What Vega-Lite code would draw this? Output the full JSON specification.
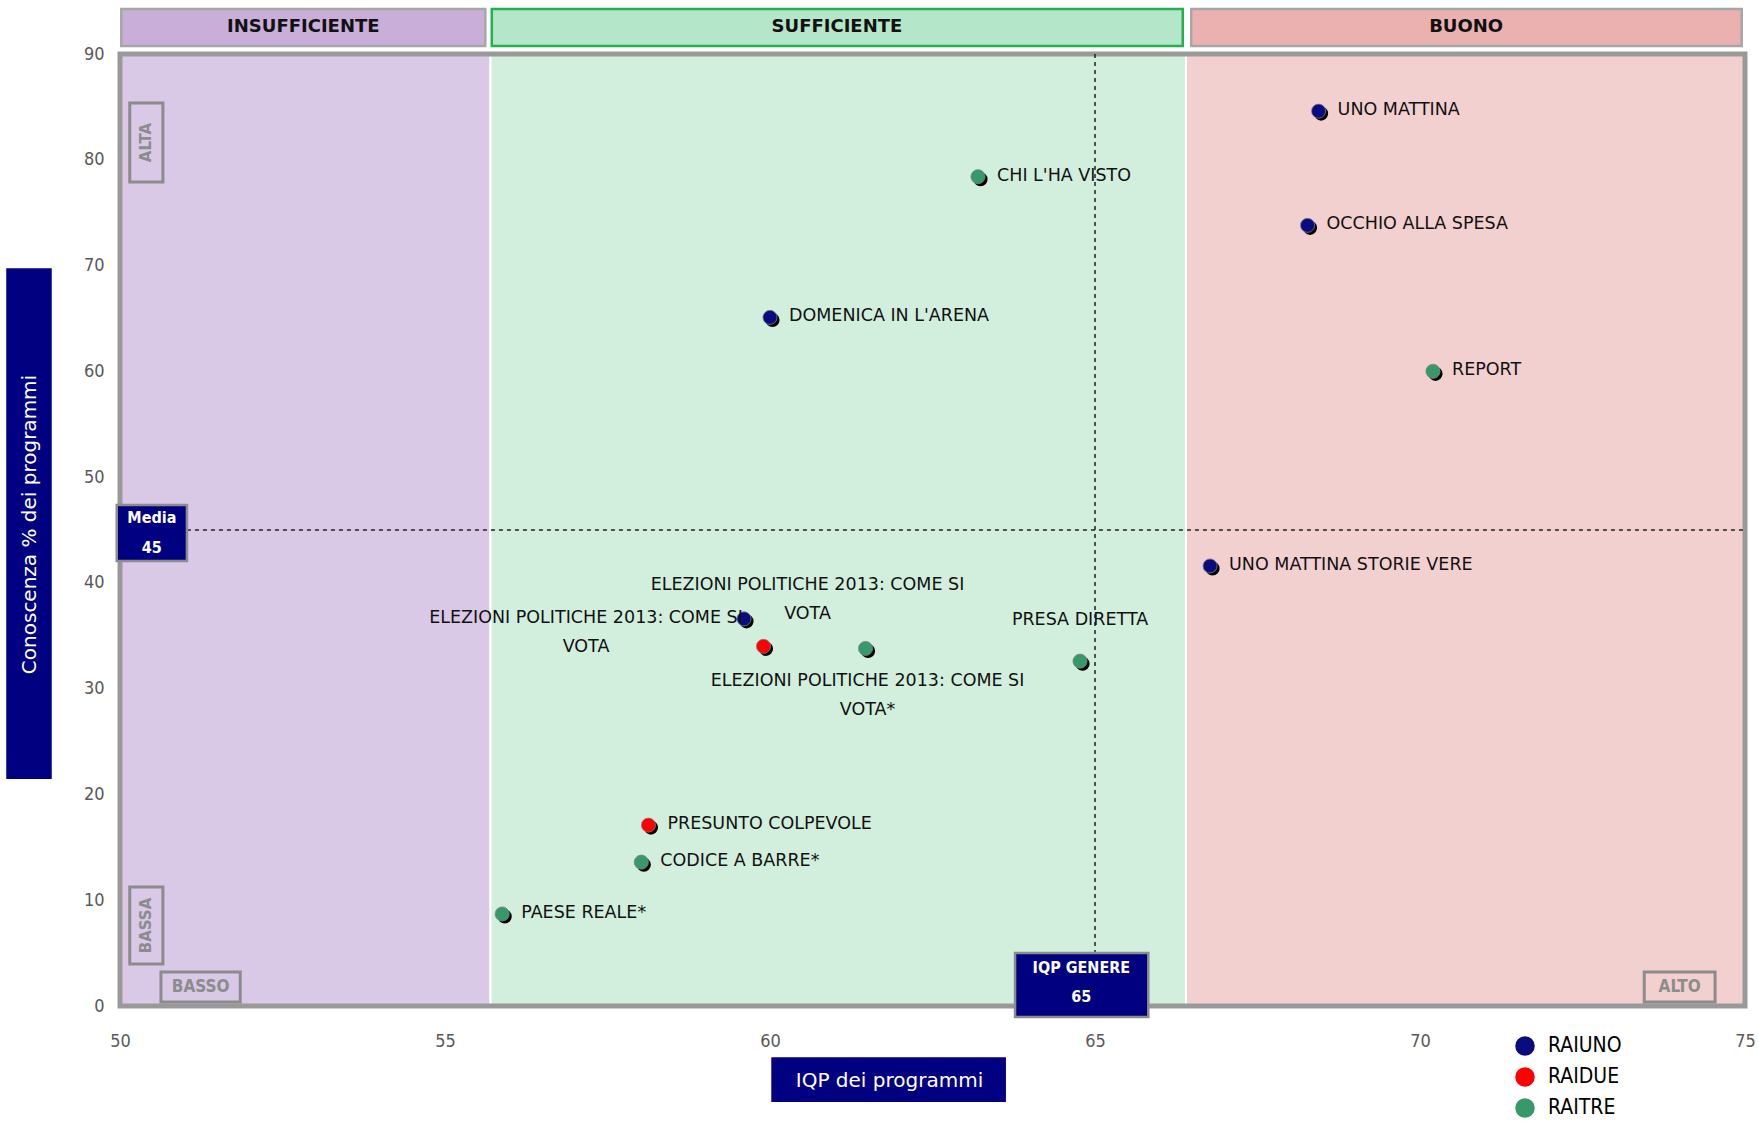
{
  "$schema": "https://vega.github.io/schema/vega-lite/v6.json",
  "width": 1625,
  "height": 952,
  "autosize": {"type": "none"},
  "padding": {"left": 120, "top": 54, "right": 13, "bottom": 115},
  "background": "white",
  "config": {"view": {"stroke": null}, "font": "DejaVu Sans"},
  "datasets": {
    "zone": [
      {"zona": "INSUFFICIENTE", "iqp": 50, "iqp2": 55.7, "con": 0, "con2": 90},
      {"zona": "SUFFICIENTE", "iqp": 55.7, "iqp2": 66.4, "con": 0, "con2": 90},
      {"zona": "BUONO", "iqp": 66.4, "iqp2": 75, "con": 0, "con2": 90}
    ],
    "intestazioni": [
      {"zona": "INSUFFICIENTE", "iqp": 50.02, "iqp2": 55.62, "iqpc": 52.82, "con": 90.75, "con2": 94.25, "conc": 92.55},
      {"zona": "SUFFICIENTE", "iqp": 55.72, "iqp2": 66.35, "iqpc": 61.03, "con": 90.75, "con2": 94.25, "conc": 92.55},
      {"zona": "BUONO", "iqp": 66.48, "iqp2": 74.95, "iqpc": 70.71, "con": 90.75, "con2": 94.25, "conc": 92.55}
    ],
    "cornice": [{"iqp": 50, "iqp2": 75, "con": 0, "con2": 90}],
    "media": [{"iqp": 51.03, "iqp2": 75, "con": 45}],
    "genere": [{"iqp": 65, "con": 90, "con2": 5.01}],
    "programmi": [
      {"programma": "UNO MATTINA", "canale": "RAIUNO", "iqp": 68.44, "con": 84.6},
      {"programma": "OCCHIO ALLA SPESA", "canale": "RAIUNO", "iqp": 68.27, "con": 73.8},
      {"programma": "CHI L'HA VISTO", "canale": "RAITRE", "iqp": 63.2, "con": 78.4},
      {"programma": "DOMENICA IN L'ARENA", "canale": "RAIUNO", "iqp": 60.0, "con": 65.1},
      {"programma": "REPORT", "canale": "RAITRE", "iqp": 70.2, "con": 60.0},
      {"programma": "UNO MATTINA STORIE VERE", "canale": "RAIUNO", "iqp": 66.77, "con": 41.6},
      {"programma": "ELEZIONI POLITICHE 2013: COME SI\nVOTA", "canale": "RAIUNO", "iqp": 59.6, "con": 36.6},
      {"programma": "ELEZIONI POLITICHE 2013: COME SI\nVOTA", "canale": "RAIDUE", "iqp": 59.9, "con": 34.0},
      {"programma": "ELEZIONI POLITICHE 2013: COME SI\nVOTA*", "canale": "RAITRE", "iqp": 61.47, "con": 33.8},
      {"programma": "PRESA DIRETTA", "canale": "RAITRE", "iqp": 64.77, "con": 32.6},
      {"programma": "PRESUNTO COLPEVOLE", "canale": "RAIDUE", "iqp": 58.13, "con": 17.1},
      {"programma": "CODICE A BARRE*", "canale": "RAITRE", "iqp": 58.02, "con": 13.6},
      {"programma": "PAESE REALE*", "canale": "RAITRE", "iqp": 55.88, "con": 8.7}
    ],
    "riquadri": [
      {"nome": "Media", "iqp": 49.95, "iqp2": 51.03, "con": 42.07, "con2": 47.36},
      {"nome": "IQP GENERE", "iqp": 63.77, "iqp2": 65.82, "con": -1.04, "con2": 5.01}
    ],
    "testiRiquadri": [
      {"testo": "Media", "iqp": 50.49, "con": 46.13},
      {"testo": "45", "iqp": 50.49, "con": 43.3},
      {"testo": "IQP GENERE", "iqp": 64.79, "con": 3.6},
      {"testo": "65", "iqp": 64.79, "con": 0.85}
    ],
    "angoli": [
      {"testo": "ALTA", "verticale": true, "iqp": 50.15, "iqp2": 50.66, "con": 77.9, "con2": 85.37, "iqpc": 50.405, "conc": 81.63},
      {"testo": "BASSA", "verticale": true, "iqp": 50.15, "iqp2": 50.66, "con": 3.97, "con2": 11.25, "iqpc": 50.405, "conc": 7.61},
      {"testo": "BASSO", "verticale": false, "iqp": 50.63, "iqp2": 51.85, "con": 0.38, "con2": 3.21, "iqpc": 51.24, "conc": 1.8},
      {"testo": "ALTO", "verticale": false, "iqp": 73.45, "iqp2": 74.54, "con": 0.38, "con2": 3.21, "iqpc": 73.995, "conc": 1.8}
    ],
    "titoli": [
      {"titolo": "y", "iqp": 48.25, "iqp2": 48.95, "con": 21.45, "con2": 69.75},
      {"titolo": "x", "iqp": 60.02, "iqp2": 63.63, "con": -9.08, "con2": -4.85}
    ]
  },
  "layer": [
    {
      "data": {"name": "zone"},
      "mark": {"type": "rect", "stroke": "white", "strokeWidth": 2},
      "encoding": {
        "x": {"field": "iqp", "type": "quantitative",
          "scale": {"domain": [50, 75], "nice": false, "zero": false},
          "axis": {"title": "IQP dei programmi", "values": [50, 55, 60, 65, 70, 75], "format": "d", "ticks": false, "domain": false, "grid": false,
            "labelFontSize": 18, "labelColor": "#595959", "labelFont": "Liberation Sans Narrow, DejaVu Sans Condensed, sans-serif",
            "labelPadding": 26, "labelFlush": false,
            "titleColor": "white", "titleFontSize": 20, "titleFontWeight": "normal", "titleFont": "DejaVu Sans",
            "titleX": 769, "titleY": 74, "titleBaseline": "middle", "titleAlign": "center", "zindex": 1}},
        "x2": {"field": "iqp2"},
        "y": {"field": "con", "type": "quantitative",
          "scale": {"domain": [0, 90], "nice": false, "zero": false},
          "axis": {"title": "Conoscenza % dei programmi", "values": [0, 10, 20, 30, 40, 50, 60, 70, 80, 90], "format": "d", "ticks": false, "domain": false, "grid": false,
            "labelFontSize": 18, "labelColor": "#595959", "labelFont": "Liberation Sans Narrow, DejaVu Sans Condensed, sans-serif",
            "labelPadding": 16, "labelFlush": false,
            "titleColor": "white", "titleFontSize": 20, "titleFontWeight": "normal", "titleFont": "DejaVu Sans",
            "titleX": -91, "titleY": 470, "titleAngle": 270, "titleBaseline": "middle", "titleAlign": "center", "zindex": 1}},
        "y2": {"field": "con2"},
        "fill": {"condition": [
          {"test": "datum.zona === 'INSUFFICIENTE'", "value": "#D9C8E6"},
          {"test": "datum.zona === 'SUFFICIENTE'", "value": "#D2EFDE"}
        ], "value": "#F2D0D0"}
      }
    },
    {
      "data": {"name": "intestazioni"},
      "mark": {"type": "rect", "strokeWidth": 2.5},
      "encoding": {
        "x": {"field": "iqp", "type": "quantitative"},
        "x2": {"field": "iqp2"},
        "y": {"field": "con", "type": "quantitative"},
        "y2": {"field": "con2"},
        "fill": {"condition": [
          {"test": "datum.zona === 'INSUFFICIENTE'", "value": "#C8AED8"},
          {"test": "datum.zona === 'SUFFICIENTE'", "value": "#B4E6CA"}
        ], "value": "#EBB1B1"},
        "stroke": {"condition": {"test": "datum.zona === 'SUFFICIENTE'", "value": "#22B14C"}, "value": "#A6A6A6"}
      }
    },
    {
      "data": {"name": "intestazioni"},
      "mark": {"type": "text", "fontSize": 18, "fontWeight": "bold", "color": "#111111", "align": "center", "baseline": "middle"},
      "encoding": {
        "x": {"field": "iqpc", "type": "quantitative"},
        "y": {"field": "conc", "type": "quantitative"},
        "text": {"field": "zona"}
      }
    },
    {
      "data": {"name": "cornice"},
      "mark": {"type": "rect", "fillOpacity": 0, "stroke": "#999999", "strokeWidth": 5},
      "encoding": {
        "x": {"field": "iqp", "type": "quantitative"},
        "x2": {"field": "iqp2"},
        "y": {"field": "con", "type": "quantitative"},
        "y2": {"field": "con2"}
      }
    },
    {
      "data": {"name": "media"},
      "mark": {"type": "rule", "color": "#222222", "strokeWidth": 1.5, "strokeDash": [4, 4]},
      "encoding": {
        "x": {"field": "iqp", "type": "quantitative"},
        "x2": {"field": "iqp2"},
        "y": {"field": "con", "type": "quantitative"}
      }
    },
    {
      "data": {"name": "genere"},
      "mark": {"type": "rule", "color": "#222222", "strokeWidth": 1.5, "strokeDash": [4, 4]},
      "encoding": {
        "x": {"field": "iqp", "type": "quantitative"},
        "y": {"field": "con", "type": "quantitative"},
        "y2": {"field": "con2"}
      }
    },
    {
      "data": {"name": "programmi"},
      "mark": {"type": "circle", "color": "#000000", "opacity": 1, "size": 200, "xOffset": 2.5, "yOffset": 2.5},
      "encoding": {
        "x": {"field": "iqp", "type": "quantitative"},
        "y": {"field": "con", "type": "quantitative"}
      }
    },
    {
      "data": {"name": "programmi"},
      "mark": {"type": "circle", "opacity": 1, "size": 200, "stroke": "#7f7f7f", "strokeWidth": 0.8},
      "encoding": {
        "x": {"field": "iqp", "type": "quantitative"},
        "y": {"field": "con", "type": "quantitative"},
        "color": {"field": "canale", "type": "nominal",
          "scale": {"domain": ["RAIUNO", "RAIDUE", "RAITRE"], "range": ["#0B0B80", "#FF0000", "#35996A"]},
          "legend": {"orient": "none", "legendX": 1394, "legendY": 981, "title": null, "symbolType": "circle",
            "symbolSize": 380, "symbolStrokeColor": "#8c8c8c", "symbolStrokeWidth": 2, "symbolOpacity": 1,
            "labelFontSize": 21, "labelFont": "Liberation Sans Narrow, DejaVu Sans Condensed, sans-serif", "labelColor": "#000000",
            "rowPadding": 3, "labelOffset": 12, "padding": 0,
            "encode": {"symbols": {"enter": {"fill": {"signal": "datum.value === 'RAIUNO' ? '#333399' : datum.value === 'RAIDUE' ? '#FF0000' : '#009999'"}}, "update": {"fill": {"signal": "datum.value === 'RAIUNO' ? '#333399' : datum.value === 'RAIDUE' ? '#FF0000' : '#009999'"}}}}}}
      }
    },
    {
      "data": {"name": "programmi"},
      "transform": [{"filter": "indexof(datum.programma, 'ELEZIONI') < 0 && datum.programma !== 'PRESA DIRETTA'"}],
      "mark": {"type": "text", "fontSize": 17.5, "color": "#111111", "align": "left", "baseline": "middle", "dx": 19, "dy": -1},
      "encoding": {
        "x": {"field": "iqp", "type": "quantitative"},
        "y": {"field": "con", "type": "quantitative"},
        "text": {"field": "programma"}
      }
    },
    {
      "data": {"name": "programmi"},
      "transform": [{"filter": "indexof(datum.programma, 'ELEZIONI') >= 0 && datum.canale === 'RAIUNO'"}],
      "mark": {"type": "text", "fontSize": 17.5, "color": "#111111", "align": "center", "baseline": "top", "dx": -158, "dy": -10, "lineBreak": "\n", "lineHeight": 29},
      "encoding": {
        "x": {"field": "iqp", "type": "quantitative"},
        "y": {"field": "con", "type": "quantitative"},
        "text": {"field": "programma"}
      }
    },
    {
      "data": {"name": "programmi"},
      "transform": [{"filter": "indexof(datum.programma, 'ELEZIONI') >= 0 && datum.canale === 'RAIDUE'"}],
      "mark": {"type": "text", "fontSize": 17.5, "color": "#111111", "align": "center", "baseline": "top", "dx": 44, "dy": -70, "lineBreak": "\n", "lineHeight": 29},
      "encoding": {
        "x": {"field": "iqp", "type": "quantitative"},
        "y": {"field": "con", "type": "quantitative"},
        "text": {"field": "programma"}
      }
    },
    {
      "data": {"name": "programmi"},
      "transform": [{"filter": "indexof(datum.programma, 'ELEZIONI') >= 0 && datum.canale === 'RAITRE'"}],
      "mark": {"type": "text", "fontSize": 17.5, "color": "#111111", "align": "center", "baseline": "top", "dx": 2, "dy": 24, "lineBreak": "\n", "lineHeight": 29},
      "encoding": {
        "x": {"field": "iqp", "type": "quantitative"},
        "y": {"field": "con", "type": "quantitative"},
        "text": {"field": "programma"}
      }
    },
    {
      "data": {"name": "programmi"},
      "transform": [{"filter": "datum.programma === 'PRESA DIRETTA'"}],
      "mark": {"type": "text", "fontSize": 17.5, "color": "#111111", "align": "center", "baseline": "middle", "dx": 0, "dy": -41},
      "encoding": {
        "x": {"field": "iqp", "type": "quantitative"},
        "y": {"field": "con", "type": "quantitative"},
        "text": {"field": "programma"}
      }
    },
    {
      "data": {"name": "riquadri"},
      "mark": {"type": "rect", "fill": "#000080", "stroke": "#8c8c8c", "strokeWidth": 2.5},
      "encoding": {
        "x": {"field": "iqp", "type": "quantitative"},
        "x2": {"field": "iqp2"},
        "y": {"field": "con", "type": "quantitative"},
        "y2": {"field": "con2"}
      }
    },
    {
      "data": {"name": "testiRiquadri"},
      "mark": {"type": "text", "fontSize": 16, "fontWeight": "bold", "color": "white", "align": "center", "baseline": "middle", "font": "DejaVu Sans Condensed, DejaVu Sans"},
      "encoding": {
        "x": {"field": "iqp", "type": "quantitative"},
        "y": {"field": "con", "type": "quantitative"},
        "text": {"field": "testo"}
      }
    },
    {
      "data": {"name": "angoli"},
      "mark": {"type": "rect", "fillOpacity": 0, "stroke": "#8c8c8c", "strokeWidth": 3},
      "encoding": {
        "x": {"field": "iqp", "type": "quantitative"},
        "x2": {"field": "iqp2"},
        "y": {"field": "con", "type": "quantitative"},
        "y2": {"field": "con2"}
      }
    },
    {
      "data": {"name": "angoli"},
      "transform": [{"filter": "datum.verticale"}],
      "mark": {"type": "text", "fontSize": 15, "fontWeight": "bold", "color": "#8c8c8c", "align": "center", "baseline": "middle", "angle": 270},
      "encoding": {
        "x": {"field": "iqpc", "type": "quantitative"},
        "y": {"field": "conc", "type": "quantitative"},
        "text": {"field": "testo"}
      }
    },
    {
      "data": {"name": "angoli"},
      "transform": [{"filter": "!datum.verticale"}],
      "mark": {"type": "text", "fontSize": 17, "fontWeight": "bold", "color": "#8c8c8c", "align": "center", "baseline": "middle", "font": "DejaVu Sans Condensed, DejaVu Sans"},
      "encoding": {
        "x": {"field": "iqpc", "type": "quantitative"},
        "y": {"field": "conc", "type": "quantitative"},
        "text": {"field": "testo"}
      }
    },
    {
      "data": {"name": "titoli"},
      "mark": {"type": "rect", "fill": "#000080"},
      "encoding": {
        "x": {"field": "iqp", "type": "quantitative"},
        "x2": {"field": "iqp2"},
        "y": {"field": "con", "type": "quantitative"},
        "y2": {"field": "con2"}
      }
    }
  ]
}
